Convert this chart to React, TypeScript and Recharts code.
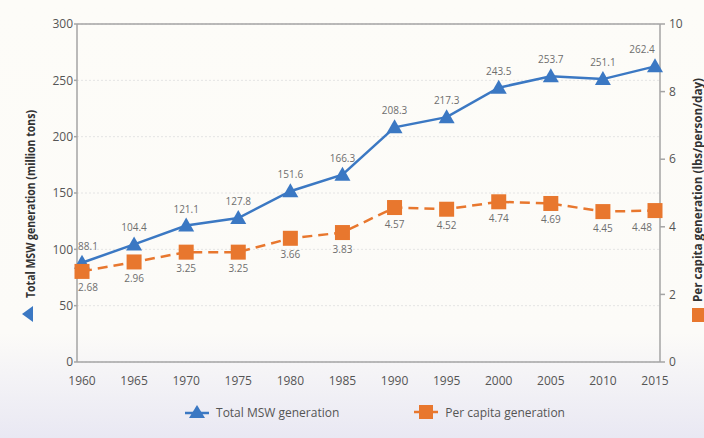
import * as React from 'react'
import { CartesianGrid, LabelList, Legend, Line, LineChart, ReferenceLine, XAxis, YAxis } from 'recharts'

const YEARS = ['1960', '1965', '1970', '1975', '1980', '1985', '1990', '1995', '2000', '2005', '2010', '2015']
const TOTAL_MSW = [88.1, 104.4, 121.1, 127.8, 151.6, 166.3, 208.3, 217.3, 243.5, 253.7, 251.1, 262.4]
const PER_CAPITA = [2.68, 2.96, 3.25, 3.25, 3.66, 3.83, 4.57, 4.52, 4.74, 4.69, 4.45, 4.48]
const LEFT_TICKS = [0, 50, 100, 150, 200, 250, 300]
const RIGHT_TICKS = [0, 2, 4, 6, 8, 10]

const BLUE = '#3b78c3'
const ORANGE = '#e8772e'
const AXIS_GRAY = '#a4a4a4'
const FONT = '"Open Sans", "DejaVu Sans", sans-serif'
const TICK = { fontSize: 12, fill: '#555', fontFamily: FONT } as const

const data = YEARS.map((year, i) => ({ year, total: TOTAL_MSW[i], perCapita: PER_CAPITA[i] }))
const last = YEARS.length - 1

function Triangle({ cx, cy }: any) {
  if (cx == null || cy == null) return null
  return <polygon points={`${cx},${cy - 8} ${cx - 8},${cy + 6} ${cx + 8},${cy + 6}`} fill={BLUE} />
}

function Square({ cx, cy }: any) {
  if (cx == null || cy == null) return null
  return <rect x={cx - 7.5} y={cy - 7.5} width={15} height={15} fill={ORANGE} />
}

// edge labels are nudged inward like in the source figure
function ValueLabel({ x, y, value, index, below }: any) {
  const shift = index === 0 ? 6 : index === last ? -13 : 0
  return (
    <text
      x={x + shift}
      y={below ? y + 16 : y - 17}
      textAnchor="middle"
      dominantBaseline="central"
      fontSize={10}
      fontFamily={FONT}
      fill="#6e6e6e"
    >
      {value}
    </text>
  )
}

// the source uses a condensed bold face, so the title is squeezed to its measured length
function AxisTitle({ x, y, length, children }: any) {
  return (
    <text
      x={x}
      y={y}
      transform={`rotate(-90 ${x} ${y})`}
      textAnchor="middle"
      dominantBaseline="central"
      fontSize={12}
      fontWeight="bold"
      fontFamily={FONT}
      fill="#333"
      textLength={length}
      lengthAdjust="spacingAndGlyphs"
    >
      {children}
    </text>
  )
}

function LeftTitle({ viewBox }: any) {
  const vb = viewBox ?? { x: 0, y: 24, width: 77, height: 338 }
  const cx = vb.x + 30
  const ty = vb.y + 290
  return (
    <g>
      <AxisTitle x={cx} y={vb.y + 180} length={188}>
        Total MSW generation (million tons)
      </AxisTitle>
      <polygon points={`${cx - 8},${ty} ${cx + 3},${ty - 8} ${cx + 3},${ty + 8}`} fill={BLUE} />
    </g>
  )
}

function RightTitle({ viewBox }: any) {
  const vb = viewBox ?? { x: 660, y: 24, width: 44, height: 338 }
  const cx = vb.x + 37
  const sy = vb.y + 291
  return (
    <g>
      <AxisTitle x={cx} y={vb.y + 166} length={224}>
        Per capita generation (lbs/person/day)
      </AxisTitle>
      <rect x={cx - 5} y={sy - 7} width={14} height={14} fill={ORANGE} />
    </g>
  )
}

function LegendRow() {
  const item = { display: 'flex', alignItems: 'center', gap: 7 } as const
  return (
    <div
      style={{
        display: 'flex',
        justifyContent: 'center',
        alignItems: 'center',
        gap: 75,
        height: 20,
        paddingLeft: 46,
        fontFamily: FONT,
        fontSize: 12,
        color: '#555'
      }}
    >
      <span style={item}>
        <svg width={24} height={16}>
          <line x1={0} y1={9} x2={24} y2={9} stroke={BLUE} strokeWidth={2.5} />
          <polygon points="12,1 4,14 20,14" fill={BLUE} />
        </svg>
        Total MSW generation
      </span>
      <span style={item}>
        <svg width={24} height={16}>
          <line x1={0} y1={8} x2={24} y2={8} stroke={ORANGE} strokeWidth={2.5} />
          <rect x={5} y={1} width={14} height={14} fill={ORANGE} />
        </svg>
        Per capita generation
      </span>
    </div>
  )
}

export default function App() {
  return (
    <div
      style={{
        width: 704,
        height: 438,
        background: 'linear-gradient(to bottom, #fdfcf8 0%, #fcfbf8 76%, #e9e8f3 100%)'
      }}
    >
      <style>{'body{margin:0}'}</style>
      <LineChart width={704} height={438} data={data} margin={{ top: 24, right: 0, bottom: 16, left: 0 }}>
        <CartesianGrid yAxisId="left" vertical={false} stroke="#e4e4e4" strokeDasharray="2 2" />
        <XAxis
          dataKey="year"
          height={40}
          padding={{ left: 5, right: 5 }}
          tick={TICK}
          tickLine={false}
          tickMargin={8}
          stroke={AXIS_GRAY}
          strokeWidth={1.5}
        />
        <YAxis
          yAxisId="left"
          width={77}
          domain={[0, 300]}
          ticks={LEFT_TICKS}
          tick={TICK}
          tickSize={3}
          tickMargin={1}
          stroke={AXIS_GRAY}
          strokeWidth={1.5}
          label={{ content: (p: any) => <LeftTitle viewBox={p.viewBox} /> }}
        />
        <YAxis
          yAxisId="right"
          orientation="right"
          width={44}
          domain={[0, 10]}
          ticks={RIGHT_TICKS}
          tick={TICK}
          tickSize={5}
          tickMargin={4}
          stroke={AXIS_GRAY}
          strokeWidth={1.5}
          label={{ content: (p: any) => <RightTitle viewBox={p.viewBox} /> }}
        />
        <ReferenceLine yAxisId="left" y={300} stroke={AXIS_GRAY} strokeWidth={1.5} />
        <Legend verticalAlign="bottom" content={<LegendRow />} />
        <Line
          yAxisId="left"
          dataKey="total"
          stroke={BLUE}
          strokeWidth={2.5}
          dot={<Triangle />}
          activeDot={false}
          isAnimationActive={false}
        >
          <LabelList dataKey="total" content={(p: any) => <ValueLabel {...p} />} />
        </Line>
        <Line
          yAxisId="right"
          dataKey="perCapita"
          stroke={ORANGE}
          strokeWidth={2.5}
          strokeDasharray="10 6"
          dot={<Square />}
          activeDot={false}
          isAnimationActive={false}
        >
          <LabelList dataKey="perCapita" content={(p: any) => <ValueLabel {...p} below />} />
        </Line>
      </LineChart>
    </div>
  )
}
